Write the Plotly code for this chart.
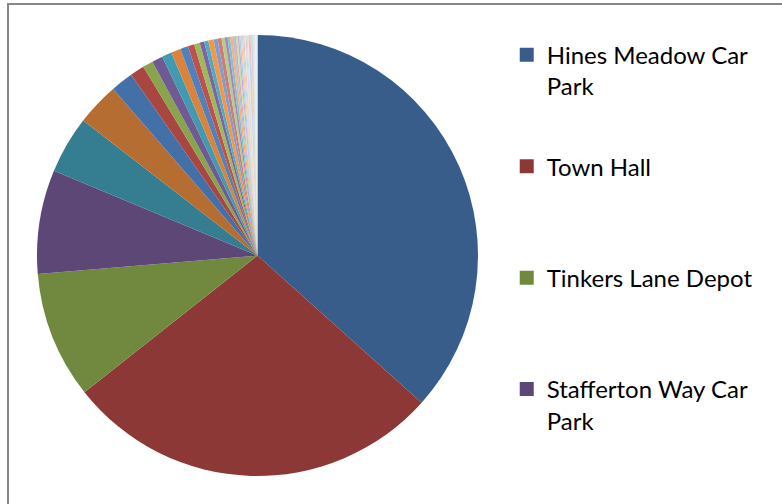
import plotly.graph_objects as go

# ---- data ----
named_labels = ["Hines Meadow Car Park", "Town Hall", "Tinkers Lane Depot", "Stafferton Way Car Park"]
big_values = [36.6, 27.7, 9.3, 7.6, 4.2, 3.15]
small_values = [1.65, 1.05, 0.75, 0.8, 0.72, 0.7, 0.58, 0.47, 0.42, 0.33, 0.3, 0.39]
tiny_values = [0.29, 0.29, 0.24, 0.2, 0.19, 0.175,
               0.13, 0.12, 0.12, 0.11, 0.1, 0.1, 0.09, 0.09, 0.08, 0.08, 0.08, 0.07,
               0.07, 0.07, 0.06, 0.06, 0.06, 0.05, 0.05, 0.05, 0.05, 0.04, 0.04, 0.04]
values = big_values + small_values + tiny_values
labels = named_labels + [f"Location {i + 1}" for i in range(len(named_labels), len(values))]
legend_labels = ["Hines Meadow Car<br>Park", "Town Hall<br> ", "Tinkers Lane Depot<br> ", "Stafferton Way Car<br>Park"]

# ---- colours ----
palette_sets = [
    ["#385D8A", "#8C3836", "#71893F", "#5C4776", "#357D91", "#B66D31"],
    ["#4470A8", "#A84642", "#88A54E", "#6F5A93", "#419AB0", "#D9843A"],
    ["#4F81BD", "#C0504D", "#9BBB59", "#8064A2", "#4BACC6", "#F79646"],
    ["#7BA0CD", "#CF7B79", "#B4CC83", "#A08BBB", "#7EC1D3", "#F9B074"],
    ["#A7C0DE", "#DFA7A6", "#CDDDAC", "#BFB1D0", "#A5D4E1", "#FBCBA3"],
    ["#C6D5EA", "#EAC5C4", "#DFE9CB", "#D6CDE2", "#C4E3EC", "#FCDDC4"],
    ["#B9CDE5", "#E6B9B8", "#D7E4BD", "#CCC1DA", "#B7DEE8", "#FCD5B5"],
    ["#D9E3F1", "#F2D9D8", "#EAF1DE", "#E5DFEC", "#DAEEF3", "#FDE9D9"],
]
colors = [palette_sets[(i // 6) % len(palette_sets)][i % 6] for i in range(len(values))]

fig = go.Figure()
fig.add_trace(go.Pie(
    labels=labels, values=values, sort=False, direction="clockwise", rotation=0,
    marker=dict(colors=colors, line=dict(width=0)),
    textinfo="none", hoverinfo="label+percent", showlegend=False,
    domain=dict(x=[37 / 782, 478 / 782], y=[28 / 504, 469 / 504]),
))

for i, lab in enumerate(legend_labels):
    fig.add_trace(go.Scatter(
        x=[None], y=[None], mode="markers", name=lab, legendgroup=f"g{i}",
        marker=dict(symbol="square", size=14, color=colors[i]),
        showlegend=True,
    ))

fig.update_layout(
    width=782, height=504,
    margin=dict(l=0, r=0, t=0, b=0),
    paper_bgcolor="white", plot_bgcolor="white",
    xaxis=dict(visible=False), yaxis=dict(visible=False),
    font=dict(family="Lato, sans-serif", color="#000000"),
    legend=dict(
        x=0.648, y=0.935, xanchor="left", yanchor="top",
        font=dict(size=24, family="Lato, sans-serif", color="#000000"),
        tracegroupgap=46, valign="top", bgcolor="rgba(0,0,0,0)",
    ),
    shapes=[dict(type="rect", xref="paper", yref="paper",
                 x0=8 / 782, x1=1.05, y0=-0.05, y1=1 - 4 / 504,
                 line=dict(color="#868686", width=2), layer="above")],
)

fig.write_html("out.html")
